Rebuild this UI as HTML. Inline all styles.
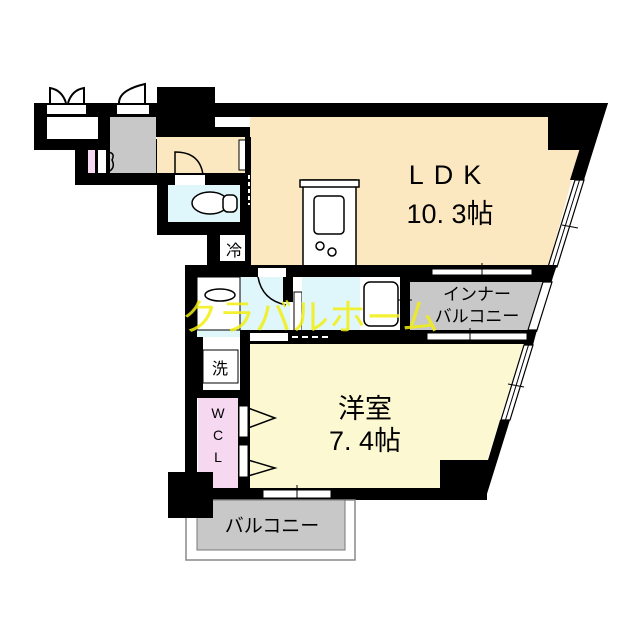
<!DOCTYPE html>
<html><head><meta charset="utf-8"><style>
html,body{margin:0;padding:0;background:#fff}
svg{display:block}
text{font-family:"Liberation Sans","Noto Sans CJK JP",sans-serif}
</style></head><body>
<svg width="640" height="640" viewBox="0 0 640 640" xmlns="http://www.w3.org/2000/svg">
<rect width="640" height="640" fill="#fff"/>
<!-- top-left unit -->
<rect x="34" y="103" width="250" height="34" fill="#000"/>
<rect x="47" y="117" width="51" height="22" fill="#fff"/>
<rect x="34" y="103" width="13" height="47" fill="#000"/>
<rect x="34" y="139" width="64" height="11" fill="#000"/>
<rect x="47" y="105" width="39" height="9" fill="#fff"/>
<rect x="117" y="105" width="32" height="9" fill="#fff"/>
<path d="M50 103 L50 88 Q62 90 66 103 M84 103 L84 88 Q72 90 68 103 M119 103 Q119 90 145 84 L145 103" stroke="#000" stroke-width="2" fill="none"/>
<rect x="157" y="87" width="58" height="50" fill="#000"/>
<rect x="215" y="117" width="53" height="10" fill="#fff"/>
<rect x="75" y="139" width="82" height="46" fill="#000"/>
<rect x="98" y="117" width="12" height="68" fill="#000"/>
<rect x="110" y="117" width="46" height="56" fill="#c8c8c8"/>
<rect x="88" y="150" width="7" height="23" fill="#f6d8f0"/>
<rect x="98" y="150" width="8" height="23" fill="#fff"/>
<path d="M106 152 Q116 152 112 160 Q116 168 108 172" stroke="#000" stroke-width="1.5" fill="none"/>
<!-- corridor + toilet -->
<rect x="157" y="137" width="100" height="36" fill="#fbe8c0"/>
<rect x="239" y="140" width="8" height="30" fill="#fff" stroke="#000" stroke-width="1"/>
<rect x="157" y="173" width="93" height="62" fill="#000"/>
<rect x="168" y="185" width="72" height="37" fill="#dff6fa"/>
<rect x="175" y="175" width="30" height="10" fill="#fff"/>
<path d="M175 175 L175 152 Q200 152 203 175" stroke="#000" stroke-width="1.5" fill="none"/>
<ellipse cx="210" cy="203" rx="18" ry="11" fill="#fff" stroke="#000" stroke-width="1.5"/>
<rect x="223" y="195" width="14" height="17" rx="5" fill="#fff" stroke="#000" stroke-width="1.5"/>
<rect x="207" y="235" width="43" height="32" fill="#000"/>
<rect x="220" y="235" width="28" height="26" fill="#fff"/>
<text x="234" y="256" font-size="16" text-anchor="middle">冷</text>
<!-- LDK -->
<polygon points="250,117 548,117 548,150 580,150 548,267 250,267" fill="#fbe8c0"/>
<rect x="250" y="103" width="300" height="14" fill="#000"/>
<polygon points="548,103 608,103 593,150 548,150" fill="#000"/>
<polygon points="594,103 608,103 584,180 570,180" fill="#000"/>
<polygon points="575,180 584,180 557,267 548,267" fill="#fff" stroke="#000" stroke-width="1.2"/>
<line x1="579.5" y1="180" x2="552.5" y2="267" stroke="#000" stroke-width="1"/>
<line x1="562" y1="225" x2="578" y2="228" stroke="#000" stroke-width="1"/>
<rect x="245" y="137" width="6" height="128" fill="#000"/>
<line x1="249" y1="175" x2="249" y2="205" stroke="#fff" stroke-width="2" stroke-dasharray="4,3"/>
<!-- kitchen -->
<rect x="303" y="180" width="53" height="86" fill="#fff" stroke="#000" stroke-width="1.5"/>
<rect x="300" y="180" width="59" height="7" fill="#fff" stroke="#000" stroke-width="1.5"/>
<rect x="314" y="196" width="30" height="38" rx="4" fill="#fff" stroke="#000" stroke-width="1.5"/>
<circle cx="320" cy="246" r="4" fill="#fff" stroke="#000" stroke-width="1.5"/>
<circle cx="332" cy="252" r="4" fill="#fff" stroke="#000" stroke-width="1.5"/>
<text x="450" y="184" font-size="27" text-anchor="middle" letter-spacing="10">LDK</text>
<text x="450" y="223" font-size="27" text-anchor="middle">10. 3帖</text>
<!-- middle row -->
<polygon points="185,265 557,265 553,277 185,277" fill="#000"/>
<rect x="185" y="265" width="12" height="240" fill="#000"/>
<rect x="197" y="277" width="93" height="60" fill="#dff6fa"/>
<rect x="197" y="277" width="43" height="53" fill="#fff" stroke="#000" stroke-width="1"/>
<polygon points="410,277 553,277 537,332 410,332" fill="#000"/>
<polygon points="410,282 543,282 528,330 410,330" fill="#c8c8c8"/>
<polygon points="543,282 552,282 537,330 528,330" fill="#fff" stroke="#000" stroke-width="1.2"/>
<rect x="283" y="277" width="10" height="25" fill="#000"/>
<rect x="294" y="292" width="8" height="40" fill="#fff" stroke="#000" stroke-width="1"/>
<path d="M302 300 L325 312 L302 325" stroke="#000" stroke-width="1.5" fill="none"/>
<rect x="302" y="277" width="58" height="53" fill="#dff6fa"/>
<rect x="360" y="277" width="42" height="53" fill="#fff"/>
<rect x="364" y="282" width="34" height="44" rx="6" fill="#fff" stroke="#000" stroke-width="1.5"/>
<rect x="400" y="277" width="10" height="55" fill="#000"/>
<line x1="398" y1="300" x2="412" y2="300" stroke="#000" stroke-width="1"/>
<rect x="258" y="268" width="28" height="9" fill="#fff"/>
<path d="M258 277 Q262 300 286 305" stroke="#000" stroke-width="1.5" fill="none"/>
<ellipse cx="220" cy="295" rx="15" ry="6" fill="#fff" stroke="#000" stroke-width="1.5"/>
<rect x="432" y="269" width="100" height="6" fill="#fff" stroke="#000" stroke-width="1"/>
<line x1="482" y1="263" x2="482" y2="280" stroke="#000" stroke-width="1"/>
<text x="477" y="300" font-size="17" text-anchor="middle">インナー</text>
<text x="477" y="322" font-size="17" text-anchor="middle">バルコニー</text>
<polygon points="240,330 537,330 533,345 240,345" fill="#000"/>
<rect x="250" y="333" width="38" height="8" fill="#fff"/>
<line x1="292" y1="337" x2="330" y2="337" stroke="#fff" stroke-width="2" stroke-dasharray="6,4"/>
<rect x="427" y="333" width="100" height="7" fill="#fff" stroke="#000" stroke-width="1"/>
<line x1="470" y1="328" x2="470" y2="348" stroke="#000" stroke-width="1"/>
<!-- western room -->
<polygon points="250,344 524,344 487,460 440,460 440,490 250,490" fill="#fcf8d2"/>
<polygon points="524,345 533,345 510,420 501,420" fill="#fff" stroke="#000" stroke-width="1.2"/>
<line x1="528.5" y1="345" x2="505.5" y2="420" stroke="#000" stroke-width="1"/>
<line x1="508" y1="384" x2="524" y2="387" stroke="#000" stroke-width="1"/>
<polygon points="500,420 510,420 486,497 440,497 440,460 488,460" fill="#000"/>
<rect x="238" y="344" width="12" height="156" fill="#000"/>
<rect x="197" y="337" width="43" height="61" fill="#fff"/>
<rect x="197" y="337" width="6" height="61" fill="#000"/>
<rect x="203" y="350" width="35" height="33" fill="#fff" stroke="#000" stroke-width="1"/>
<text x="220" y="374" font-size="16" text-anchor="middle">洗</text>
<rect x="197" y="390" width="45" height="8" fill="#000"/>
<rect x="198" y="398" width="40" height="90" fill="#f6d8f0"/>
<text x="218" y="418" font-size="14" text-anchor="middle">W</text>
<text x="218" y="440" font-size="14" text-anchor="middle">C</text>
<text x="218" y="462" font-size="14" text-anchor="middle">L</text>
<rect x="239" y="406" width="9" height="31" fill="#fff" stroke="#000" stroke-width="1"/>
<rect x="239" y="445" width="9" height="32" fill="#fff" stroke="#000" stroke-width="1"/>
<path d="M248 408 L275 418 L248 428 M248 460 L275 468 L248 476" stroke="#000" stroke-width="1.5" fill="none"/>
<text x="365" y="418" font-size="27" text-anchor="middle">洋室</text>
<text x="365" y="450" font-size="27" text-anchor="middle">7. 4帖</text>
<rect x="197" y="488" width="290" height="12" fill="#000"/>
<rect x="263" y="490" width="68" height="8" fill="#fff" stroke="#000" stroke-width="1"/>
<line x1="297" y1="485" x2="297" y2="503" stroke="#000" stroke-width="1"/>
<!-- balcony -->
<rect x="186" y="500" width="169" height="60" fill="#fff" stroke="#888" stroke-width="1.5"/>
<rect x="197" y="500" width="148" height="50" fill="#c8c8c8" stroke="#777" stroke-width="1"/>
<rect x="168" y="472" width="45" height="46" fill="#000"/>
<text x="272" y="532" font-size="19" text-anchor="middle">バルコニー</text>
<!-- watermark -->
<text x="310" y="330" font-size="37" fill="#f2ee10" fill-opacity="0.85" text-anchor="middle">クラバルホーム</text>
</svg>
</body></html>
